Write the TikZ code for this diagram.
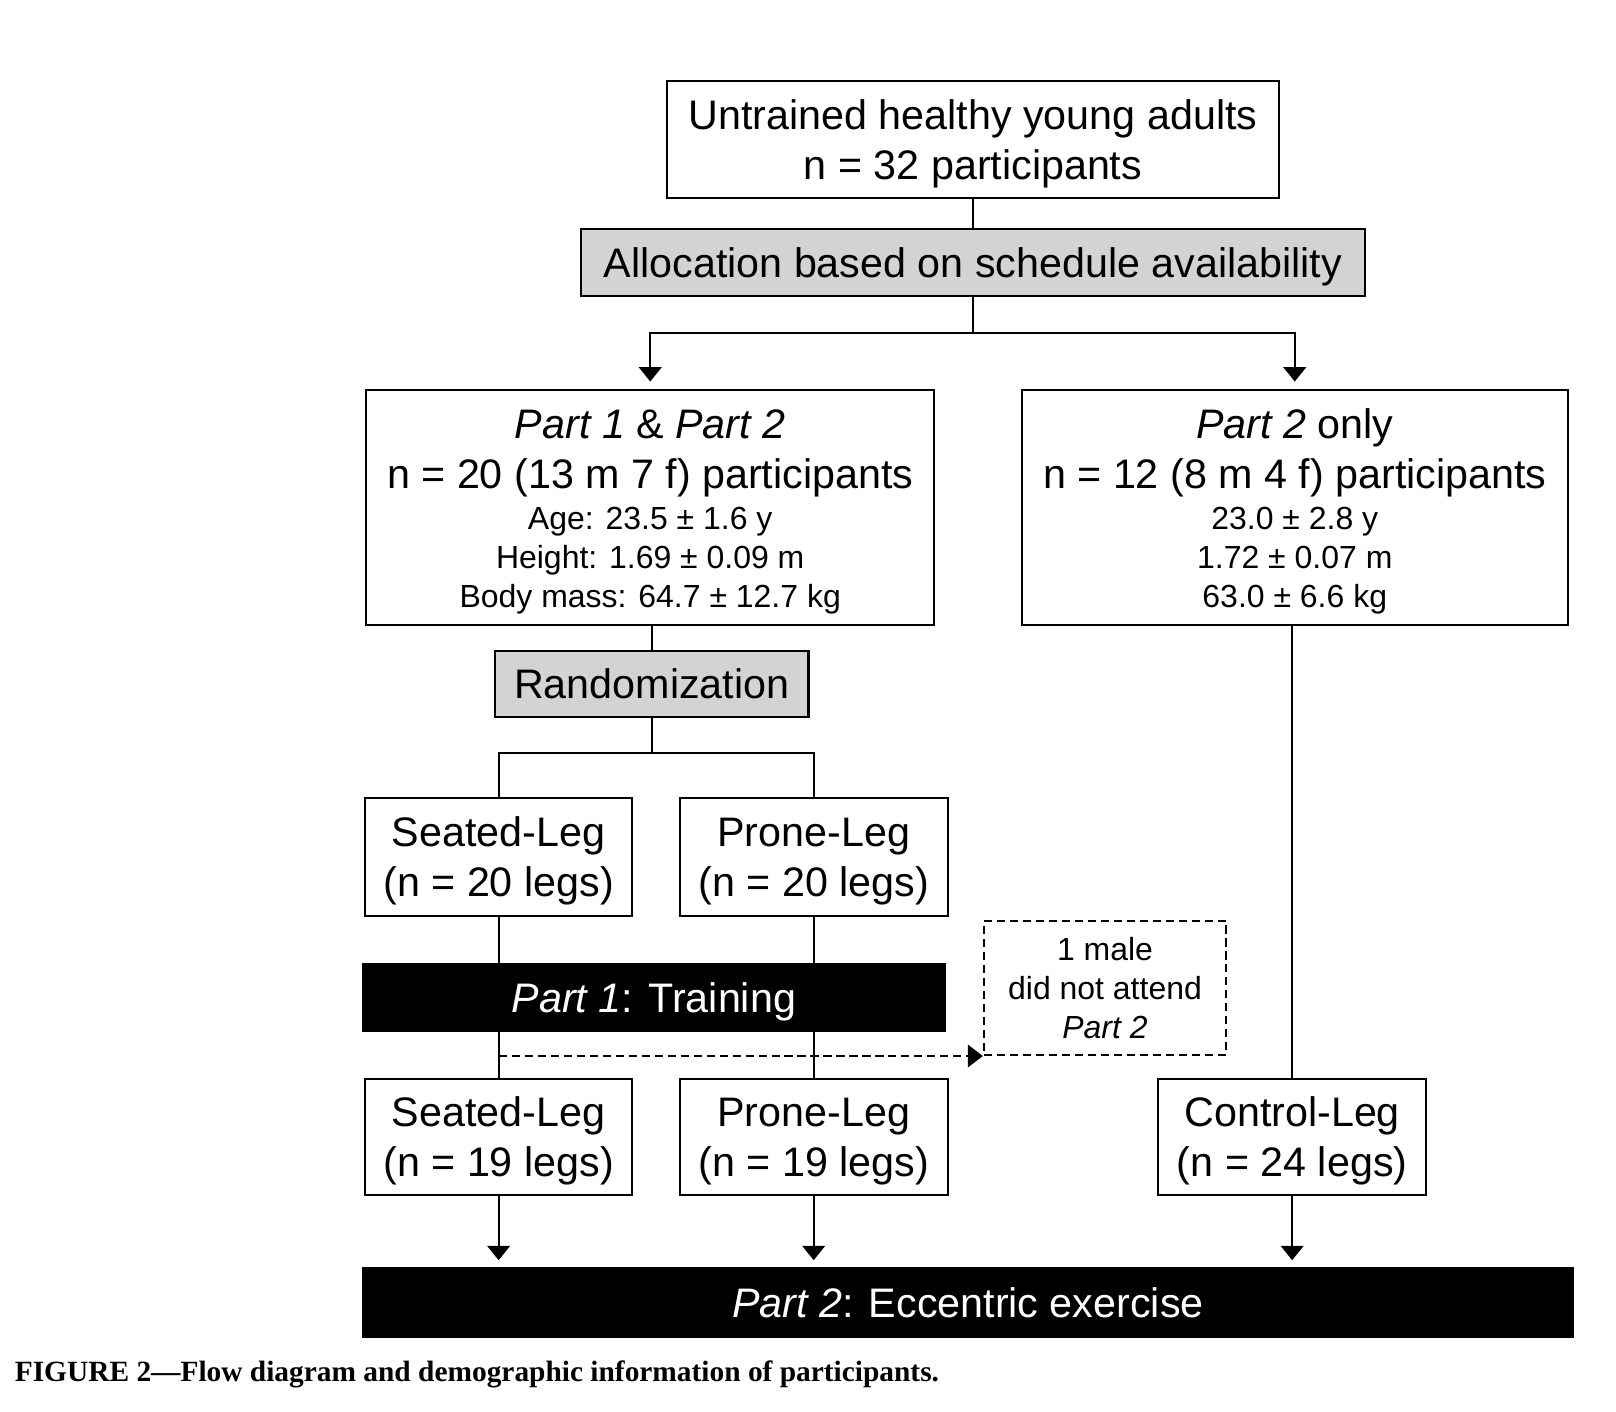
\documentclass[tikz,border=0pt]{standalone}
\usepackage{fontspec}
\setmainfont{Liberation Sans}
\newfontfamily\capfont{Liberation Serif}
\usetikzlibrary{arrows.meta}
\definecolor{boxgray}{RGB}{211,211,211}
\newcommand\smtxt{\fontsize{15.5}{19}\selectfont}
\newcommand\bst{\rule[-4.08pt]{0pt}{22.48pt}}
\newcommand\sst{\rule[-3.16pt]{0pt}{17.42pt}}
\begin{document}
\begin{tikzpicture}[x=0.5pt,y=-0.5pt,
  base/.style={draw, line width=1pt, inner sep=0pt, align=center,
    font=\fontsize{20}{24}\selectfont},
  wbox/.style={base, fill=white},
  gbox/.style={base, fill=boxgray},
  bbar/.style={base, fill=black, text=white},
  dbox/.style={base, dash pattern=on 3.9pt off 2.4pt, font=\smtxt},
  conn/.style={line width=1pt},
  arr/.style={line width=1pt, -{Triangle[width=11pt,length=7pt]}, shorten >=3.5pt},
  darr/.style={line width=1pt, dash pattern=on 3.9pt off 2.4pt, -{Triangle[width=11pt,length=7.3pt]}}
]
\useasboundingbox (0,0) rectangle (1567,1369);

\node[wbox, minimum width=296.5pt, minimum height=56.5pt] (top) at (943.5,135.5)
  {\bst Untrained healthy young adults\\n = 32 participants\bst};
\node[gbox, minimum width=380.5pt, minimum height=32.5pt] (alloc) at (943.5,254.5)
  {\bst Allocation based on schedule availability};
\node[wbox, minimum width=275.5pt, minimum height=114pt] (left) at (630.5,492)
  {\bst\textit{Part 1} \& \textit{Part 2}\\
   n = 20 (13 m 7 f) participants\\[-4pt]
   {\smtxt Age: 23.5 ± 1.6 y}\\[-5.25pt]
   {\smtxt Height: 1.69 ± 0.09 m}\\[-5.25pt]
   {\smtxt Body mass: 64.7 ± 12.7 kg}};
\node[wbox, minimum width=264.5pt, minimum height=114pt] (right) at (1255.5,492)
  {\bst\textit{Part 2} only\\
   n = 12 (8 m 4 f) participants\\[-4pt]
   {\smtxt 23.0 ± 2.8 y}\\[-5.25pt]
   {\smtxt 1.72 ± 0.07 m}\\[-5.25pt]
   {\smtxt 63.0 ± 6.6 kg}};
\node[gbox, minimum width=152pt, minimum height=32pt] (random) at (632,663)
  {\bst Randomization};
\node[wbox, minimum width=129.5pt, minimum height=57pt] (seat1) at (483.5,831)
  {\bst Seated-Leg\\(n = 20 legs)\bst};
\node[wbox, minimum width=130pt, minimum height=57pt] (prone1) at (789,831)
  {\bst Prone-Leg\\(n = 20 legs)\bst};
\node[bbar, minimum width=282pt, minimum height=32.5pt] (part1) at (634,967.5)
  {\bst\textit{Part 1}: Training};
\node[dbox, minimum width=117.5pt, minimum height=65pt] (drop) at (1071.5,958)
  {\sst 1 male\\did not attend\\\textit{Part 2}\sst};
\node[wbox, minimum width=129.5pt, minimum height=56.5pt] (seat2) at (483.5,1102.5)
  {\bst Seated-Leg\\(n = 19 legs)\bst};
\node[wbox, minimum width=130pt, minimum height=56.5pt] (prone2) at (789,1102.5)
  {\bst Prone-Leg\\(n = 19 legs)\bst};
\node[wbox, minimum width=130pt, minimum height=56.5pt] (control) at (1253,1102.5)
  {\bst Control-Leg\\(n = 24 legs)\bst};
\node[bbar, minimum width=586.5pt, minimum height=33pt] (part2) at (938.5,1263)
  {\bst\textit{Part 2}: Eccentric exercise};
\node[anchor=base west, inner sep=0pt, font=\capfont\bfseries\fontsize{14.25}{17}\selectfont] (cap) at (14,1340)
  {FIGURE 2—Flow diagram and demographic information of participants.};

% connectors
\draw[conn] (top.south) -- (alloc.north);
\draw[conn] (alloc.south) -- ++(0,35) coordinate (split1);
\draw[arr] (split1) -| (left.north);
\draw[arr] (split1) -| (right.north);
\draw[conn] (random.north |- left.south) -- (random.north);
\draw[conn] (random.south) -- ++(0,34) coordinate (split2);
\draw[conn] (split2) -| (seat1.north);
\draw[conn] (split2) -| (prone1.north);
\draw[conn] (seat1.south) -- (seat1.south |- part1.north);
\draw[conn] (prone1.south) -- (prone1.south |- part1.north);
\draw[conn] (seat2.north |- part1.south) -- (seat2.north);
\draw[conn] (prone2.north |- part1.south) -- (prone2.north);
\draw[darr] (seat2.north |- drop.south) -- (drop.south west);
\draw[conn] (control.north |- right.south) -- (control.north);
\draw[arr] (seat2.south) -- (seat2.south |- part2.north);
\draw[arr] (prone2.south) -- (prone2.south |- part2.north);
\draw[arr] (control.south) -- (control.south |- part2.north);
\end{tikzpicture}
\end{document}
